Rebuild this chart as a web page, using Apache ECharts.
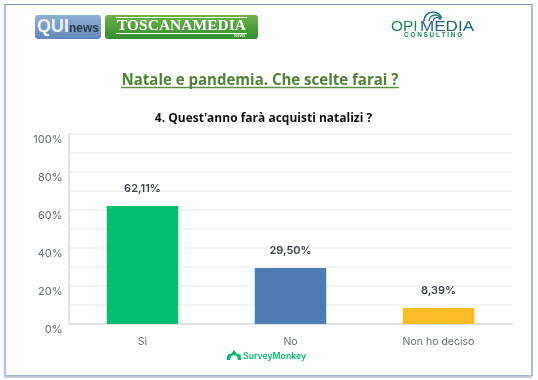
<!DOCTYPE html>
<html><head><meta charset="utf-8">
<style>html,body{margin:0;padding:0;background:#fff}#c{width:538px;height:380px}</style>
<script src="https://cdn.jsdelivr.net/npm/echarts@6/dist/echarts.min.js"></script>
</head><body><div id="c"></div>
<script>
const categories = ['Sì', 'No', 'Non ho deciso'];
const values = [62.11, 29.50, 8.39];
const barColors = ['#00bf6f', '#507cb6', '#fbbc26'];
const valueLabels = ['62,11%', '29,50%', '8,39%'];
const chartTitle = "4. Quest'anno farà acquisti natalizi ?";
const headline = 'Natale e pandemia. Che scelte farai ?';

const chart = echarts.init(document.getElementById('c'), null, {renderer: 'canvas'});
const font = 'Inter';
function t(x, y, text, size, fill, weight, extra, el) {
  return Object.assign({type: 'text', x, y, z: 5, style: Object.assign({text, fontSize: size, fill, fontWeight: weight || 'normal', fontFamily: 'Open Sans', verticalAlign: 'middle'}, extra || {})}, el || {});
}
chart.setOption({
  animation: false,
  backgroundColor: '#fff',
  grid: {left: 68.5, right: 25.5, top: 134, bottom: 56, containLabel: false},
  xAxis: {type: 'category', data: categories,
    axisLine: {lineStyle: {color: '#dcdcdc', width: 1.5}}, axisTick: {show: false},
    axisLabel: {fontFamily: font, fontSize: 10.5, color: '#666d76', margin: 12}},
  yAxis: {type: 'value', min: 0, max: 100, interval: 10,
    axisLine: {show: true, lineStyle: {color: '#dcdcdc', width: 1.5}}, axisTick: {show: false},
    splitLine: {lineStyle: {color: '#f1f1f1', width: 1.5}},
    axisLabel: {fontFamily: font, fontSize: 11, color: '#666d76', margin: 6, verticalAlign: 'top',
      formatter: v => v % 20 === 0 ? v + '%' : ''}},
  series: [{type: 'bar', barWidth: 71.5,
    data: values.map((v, i) => ({value: v, itemStyle: {color: barColors[i]}})),
    label: {show: true, position: 'top', distance: 12, fontFamily: font, fontSize: 11, fontWeight: 600, color: '#3d444c',
      formatter: p => valueLabels[p.dataIndex]}}],
  graphic: [
    {type: 'rect', z: -1, shape: {x: 5, y: 4.5, width: 527, height: 371}, style: {fill: 'none', stroke: '#7a90bc', lineWidth: 1.2}},
    {type: 'polyline', z: -1, shape: {points: [[5, 4.5], [5, 376.5], [532, 376.5]]}, style: {fill: 'none', stroke: '#b6c3dc', lineWidth: 2.5}},
    {type: 'rect', shape: {x: 35, y: 15, width: 66, height: 24, r: 3}, style: {fill: new echarts.graphic.LinearGradient(0, 0, 0, 1, [{offset: 0, color: '#8fb0d6'}, {offset: 1, color: '#5f88ba'}])}},
    t(37, 27.5, 'QUI', 18, '#eef3f8', 'bold', {fontFamily: 'Liberation Sans'}),
    t(69, 29, 'news', 12, '#2e3a48', 'bold', {fontFamily: 'Liberation Sans'}),
    {type: 'rect', shape: {x: 105, y: 15, width: 153, height: 24, r: 3}, style: {fill: new echarts.graphic.LinearGradient(0, 0, 0, 1, [{offset: 0, color: '#6fb24a'}, {offset: 1, color: '#2f8f2c'}])}},
    {type: 'line', z: 6, shape: {x1: 116, y1: 17.5, x2: 247, y2: 17.5}, style: {stroke: '#fff', lineWidth: 1}},
    {type: 'line', z: 6, shape: {x1: 116, y1: 33.5, x2: 247, y2: 33.5}, style: {stroke: '#fff', lineWidth: 1}},
    t(117, 26, 'TOSCANAMEDIA', 15.5, '#fff', 'bold', {fontFamily: 'Liberation Serif'}),
    t(234, 36, 'NEWS', 4, '#d9eccb', 'bold'),
    {type: 'arc', shape: {cx: 433, cy: 21, r: 9, startAngle: Math.PI, endAngle: Math.PI * 1.9}, style: {fill: 'none', stroke: '#1f6d8e', lineWidth: 1.6}},
    {type: 'arc', shape: {cx: 435, cy: 21, r: 6, startAngle: Math.PI, endAngle: Math.PI * 1.9}, style: {fill: 'none', stroke: '#2f7f6a', lineWidth: 1.4}},
    {type: 'arc', shape: {cx: 437, cy: 21, r: 3.5, startAngle: Math.PI, endAngle: Math.PI * 1.9}, style: {fill: 'none', stroke: '#1c4f80', lineWidth: 1.2}},
    t(391, 27, 'OPI', 14, '#1f8a50', 'normal', {fontFamily: 'Liberation Sans'}, {scaleX: 1.1}),
    t(420, 27, 'MEDIA', 14, '#1f5f8a', 'normal', {fontFamily: 'Liberation Sans'}, {scaleX: 1.22}),
    t(404, 35, 'C O N S U L T I N G', 6.4, '#1f8a50', 'bold', {fontFamily: 'Liberation Sans'}),
    t(260, 80.5, headline, 16.5, '#4f8236', 'bold', {align: 'center'}, {scaleX: 0.91}),
    {type: 'line', shape: {x1: 121, y1: 87.5, x2: 399, y2: 87.5}, style: {stroke: '#5f8f47', lineWidth: 1.3}},
    t(263.5, 118, chartTitle, 12.5, '#111', 'bold', {align: 'center'}, {scaleX: 0.96}),
    {type: 'polygon', z: 5, shape: {points: [[227, 356], [229, 354], [231, 354], [234, 350], [237, 354], [239, 354], [241, 356], [241, 360], [238, 360], [237, 356], [234, 355], [231, 356], [230, 360], [227, 360]]}, style: {fill: '#00bf6f'}},
    t(243, 356, 'SurveyMonkey', 8.7, '#00bf6f', 600, {fontFamily: 'Inter'})
  ]
});
</script></body></html>
